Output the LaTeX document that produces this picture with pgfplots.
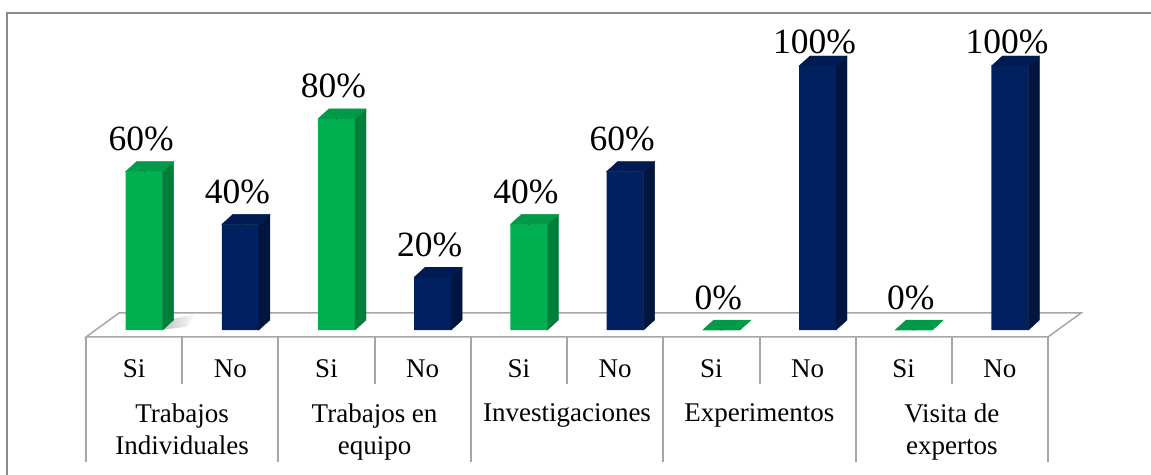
\documentclass[border=0pt]{standalone}
\usepackage{pgfplots}
\pgfplotsset{compat=1.18}
\usepackage{fontspec}
\setmainfont{Liberation Serif}
\definecolor{gfront}{HTML}{00B050}
\definecolor{gside}{HTML}{007F3A}
\definecolor{gtop}{HTML}{009A48}
\definecolor{nfront}{HTML}{002060}
\definecolor{nside}{HTML}{00163F}
\definecolor{ntop}{HTML}{001B52}
\definecolor{frame}{HTML}{8C8C8C}
\definecolor{floorc}{HTML}{A6A6A6}
\pgfplotstableread{
x v
0.5 60
2.5 80
4.5 40
6.5 0
8.5 0
}\si
\pgfplotstableread{
x v
1.5 40
3.5 20
5.5 60
7.5 100
9.5 100
}\no
\pgfplotsset{
  front3d/.style={
    ybar, bar width=37pt, bar shift=0pt, draw=none, fill=#1,
    point meta=y,
    visualization depends on={rawy \as \ry},
    nodes near coords={\pgfmathprintnumber{\pgfplotspointmeta}\%},
    every node near coord/.append style={font=\fontsize{35.5}{40}\selectfont, anchor=base, yshift={21pt-9pt*(\ry>99)}, xshift=-3pt, inner sep=0pt, text=black},
  },
  side3d/.style 2 args={
    scatter, only marks, mark=*, mark size=0.1pt,
    mark options={draw=none,fill=none},
    point meta=y,
    visualization depends on={rawy \as \val},
    scatter/@pre marker code/.code={%
      \pgfmathsetmacro\h{\val*2.64}%
      \fill[#1] (18.5pt,0pt) -- (29.5pt,10pt) -- (29.5pt,10pt-\h pt) -- (18.5pt,-\h pt) -- cycle;
      \fill[#2] (-18.5pt,0pt) -- (18.5pt,0pt) -- (29.5pt,10pt) -- (-7.5pt,10pt) -- cycle;
    },
    scatter/@post marker code/.code={},
  },
}
\begin{document}
\begin{tikzpicture}
\useasboundingbox (0,0) rectangle (1151pt,474pt);
\fill[white] (0,0) rectangle (1151pt,474pt);
% outer frame
\draw[frame, line width=1.6pt] (7pt,-10pt) -- (7pt,461pt) -- (1170pt,461pt);
% soft shadow next to the first bar
\shade[left color=black!28, right color=white] (158pt,144pt) -- (172pt,155pt) -- (196pt,160pt) -- (186pt,147pt) -- cycle;
% floor
\draw[floorc, line width=1.5pt] (86pt,137pt) -- (1048pt,137pt) -- (1081pt,161pt) -- (119pt,161pt) -- cycle;
% table lines
\foreach \xx in {86,278,471,663,856,1048}{
  \draw[floorc, line width=1.5pt] (\xx pt,137pt) -- (\xx pt,12pt);
}
\foreach \xx in {182,375,567,760,952}{
  \draw[floorc, line width=1.5pt] (\xx pt,137pt) -- (\xx pt,90pt);
}
\begin{axis}[
  at={(96pt,144pt)}, anchor=south west,
  x=96.2pt, y=2.64pt,
  xmin=0, xmax=10, ymin=0, ymax=100,
  axis line style={draw=none},
  ytick=\empty,
  major tick length=0pt,
  clip=false,
  /pgf/number format/assume math mode=true,
  xtick={0.5,1.5,...,9.5},
  xticklabels={Si,No,Si,No,Si,No,Si,No,Si,No},
  xticklabel style={font=\fontsize{27}{32}\selectfont, anchor=base, yshift=-47pt, xshift=-10pt, inner sep=0pt},
  extra x ticks={1,3,5,7,9},
  extra x tick labels={Trabajos\\Individuales, Trabajos en\\equipo, Investigaciones, Experimentos, Visita de\\expertos},
  extra x tick style={xticklabel style={anchor=north, align=center, yshift=-26.7pt, inner sep=0pt}},
]
\addplot[front3d=gfront] table[x=x,y=v] {\si};
\addplot[front3d=nfront] table[x=x,y=v] {\no};
\addplot[side3d={gside}{gtop}] table[x=x,y=v] {\si};
\addplot[side3d={nside}{ntop}] table[x=x,y=v] {\no};
\end{axis}
\end{tikzpicture}
\end{document}
